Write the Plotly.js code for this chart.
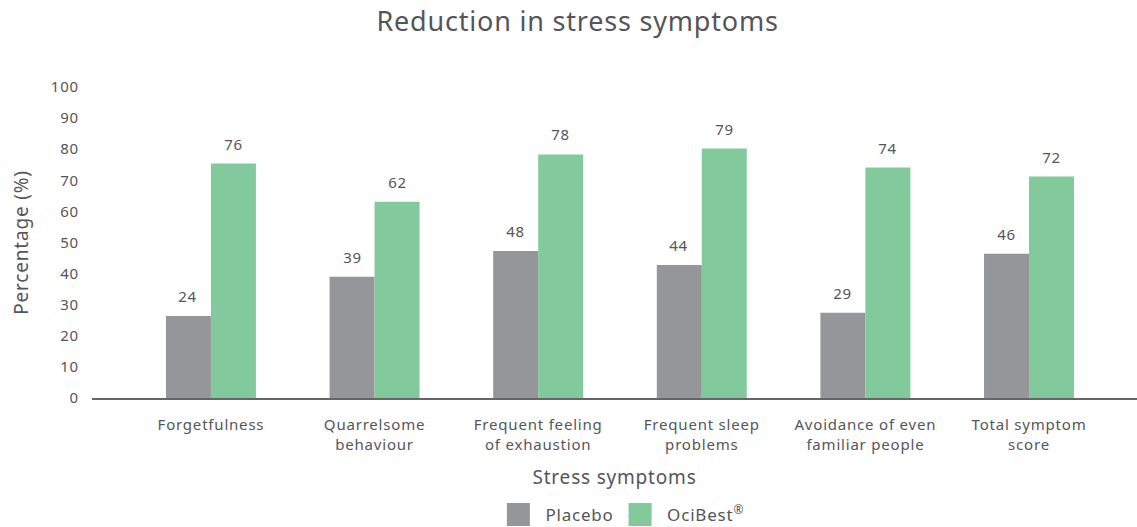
<!DOCTYPE html>
<html><head><meta charset="utf-8">
<script src="https://cdn.plot.ly/plotly-3.0.1.min.js"></script>
<style>
html,body{margin:0;padding:0;background:#fff;}
#chart{width:1137px;height:527px;}
#chart .main-svg text{letter-spacing:0.8px;}
</style>
</head><body><div id="chart"></div>
<script>
// ---- data ----
const categoryKeys = ["Forgetfulness", "Quarrelsome behaviour", "Frequent feeling of exhaustion", "Frequent sleep problems", "Avoidance of even familiar people", "Total symptom score"];
const categoryTickText = ["Forgetfulness", "Quarrelsome<br>behaviour", "Frequent feeling<br>of exhaustion", "Frequent sleep<br>problems", "Avoidance of even<br>familiar people", "Total symptom<br>score"];
const seriesNames = ["Placebo", "OciBest<sup><span style='font-size:12px'>®</span></sup>"];
const placeboHeights = [26.4, 39.0, 47.3, 42.8, 27.4, 46.4];
const ocibestHeights = [75.4, 63.1, 78.3, 80.2, 74.1, 71.2];
const placeboLabels = ["24", "39", "48", "44", "29", "46"];
const ocibestLabels = ["76", "62", "78", "79", "74", "72"];
const yTickVals = [0, 10, 20, 30, 40, 50, 60, 70, 80, 90, 100];

// ---- style ----
const FONT = "Noto Sans, Open Sans, sans-serif";
const TXT = "#555559";
const GRAY = "#95969a";
const GREEN = "#82ca9c";
const W = 1137, H = 527;
const margin = {l: 92, r: 0, t: 87, b: 129};
const xRange = [-0.727, 5.66];
const bargap = 0.45;

const catPx = (W - margin.l - margin.r) / (xRange[1] - xRange[0]);
const halfOffset = catPx * (1 - bargap) / 4;

const traces = [
  {type: "bar", name: seriesNames[0], x: categoryKeys, y: placeboHeights,
   marker: {color: GRAY}, hoverinfo: "skip"},
  {type: "bar", name: seriesNames[1], x: categoryKeys, y: ocibestHeights,
   marker: {color: GREEN}, hoverinfo: "skip"}
];

const annotations = [];
categoryKeys.forEach((c, i) => {
  annotations.push({x: c, y: placeboHeights[i], xref: "x", yref: "y", text: placeboLabels[i],
    showarrow: false, xshift: -halfOffset, yshift: 20, yanchor: "middle",
    font: {family: FONT, size: 15, color: TXT}});
  annotations.push({x: c, y: ocibestHeights[i], xref: "x", yref: "y", text: ocibestLabels[i],
    showarrow: false, xshift: halfOffset, yshift: 20, yanchor: "middle",
    font: {family: FONT, size: 15, color: TXT}});
});

const layout = {
  width: W, height: H, margin: margin,
  paper_bgcolor: "#fff", plot_bgcolor: "#fff",
  font: {family: FONT, color: TXT},
  title: {text: "Reduction in stress symptoms", x: 0.508, xanchor: "center",
          y: 0.96, yanchor: "middle", yref: "container",
          font: {family: FONT, size: 27, color: TXT}},
  barmode: "group", bargap: bargap, bargroupgap: 0,
  xaxis: {type: "category", range: xRange, tickmode: "array",
          tickvals: categoryKeys, ticktext: categoryTickText, automargin: false,
          showgrid: false, zeroline: false, showline: true, linecolor: "#66666a", linewidth: 2,
          ticks: "", ticklabelstandoff: 12,
          tickfont: {family: FONT, size: 15, color: TXT},
          title: {text: "Stress symptoms", standoff: 18,
                  font: {family: FONT, size: 19, color: TXT}}},
  yaxis: {range: [0, 100], tickmode: "array", tickvals: yTickVals, automargin: false,
          showgrid: false, zeroline: false, showline: false, ticks: "",
          ticklabelstandoff: 12,
          tickfont: {family: FONT, size: 15, color: TXT},
          title: {text: "Percentage (%)", standoff: 19,
                  font: {family: FONT, size: 19, color: TXT}}},
  showlegend: true,
  legend: {orientation: "h", xref: "container", yref: "container",
           x: 0.543, xanchor: "center", y: 0.0228, yanchor: "middle",
           font: {family: FONT, size: 17, color: TXT}, itemwidth: 44,
           traceorder: "normal"},
  annotations: annotations
};

Plotly.newPlot("chart", traces, layout, {displayModeBar: false, staticPlot: true}).then(gd => {
  gd.querySelectorAll(".legendpoints path").forEach(p => {
    p.setAttribute("d", "M11.5,11.5H-11.5V-11.5H11.5Z");
  });
});
</script>
</body></html>
